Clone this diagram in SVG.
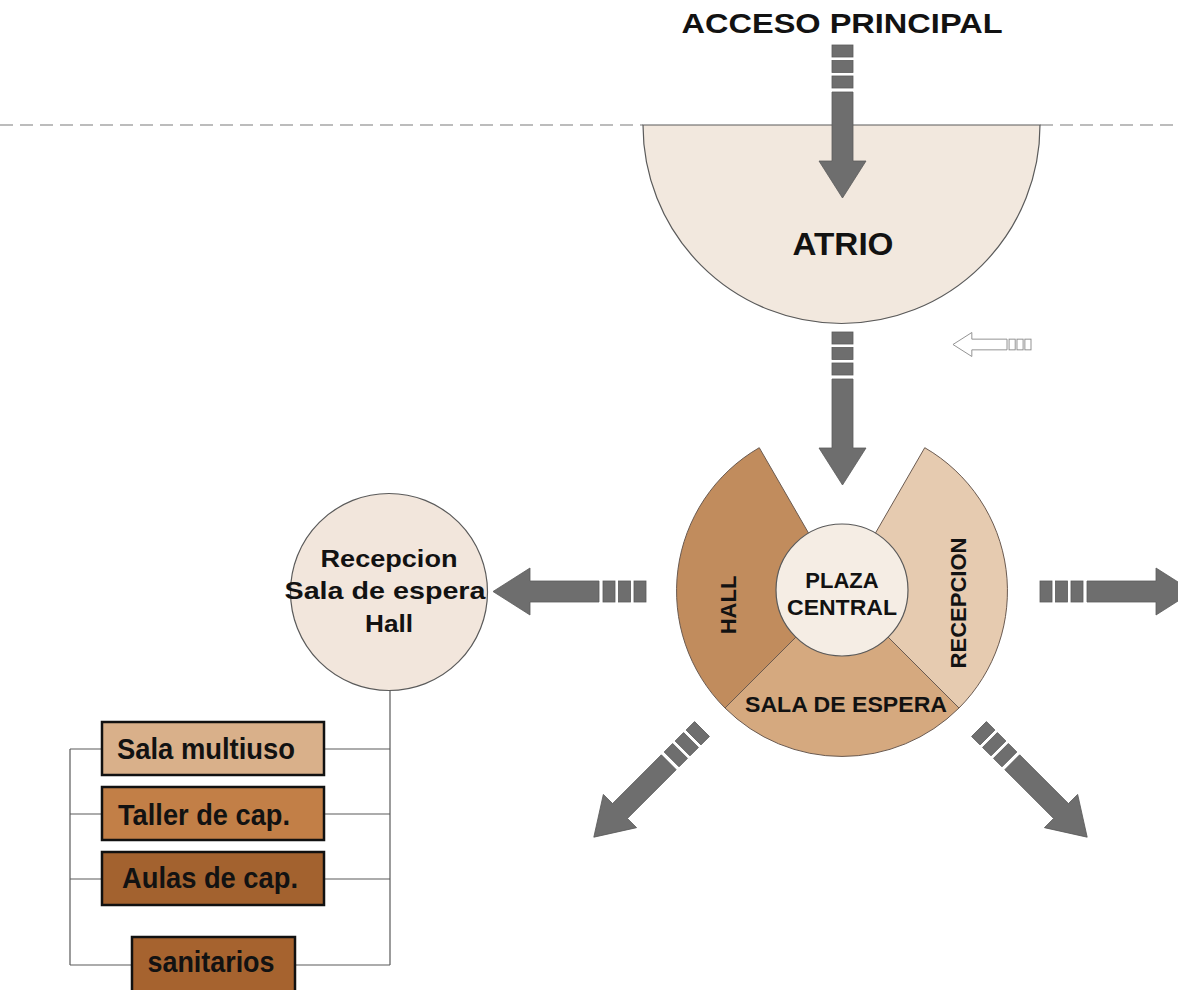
<svg xmlns="http://www.w3.org/2000/svg" xmlns:xlink="http://www.w3.org/1999/xlink" width="1178" height="990" viewBox="0 0 1178 990">
<style>
.t{font-family:"Liberation Sans",Arial,sans-serif;font-weight:bold;fill:#121212;}
.arw{fill:#6e6e6e;stroke:#5a5a5a;stroke-width:0.8;}
.arwo{fill:#ffffff;stroke:#8a8a8a;stroke-width:1.8;}
.ln{stroke:#5a5a5a;stroke-width:1.2;fill:none;}
.sec{stroke:#6a5a50;stroke-width:1;}
.box{stroke:#111;stroke-width:2.5;}
</style>
<defs>
<g id="arr">
<rect x="0" y="-10.5" width="12" height="21"/>
<rect x="15.5" y="-10.5" width="12" height="21"/>
<rect x="31" y="-10.5" width="12" height="21"/>
<path d="M47,-10.5 H116 V-23.5 L153,0 L116,23.5 V10.5 H47 Z"/>
</g>
</defs>
<rect width="1178" height="990" fill="#ffffff"/>
<text class="t" x="842" y="33" font-size="28" text-anchor="middle" textLength="321" lengthAdjust="spacingAndGlyphs">ACCESO PRINCIPAL</text>
<g id="limite">
<line x1="0" y1="125" x2="643" y2="125" stroke="#7a7a7a" stroke-width="1.2" stroke-dasharray="13 7"/>
<line x1="1040" y1="125" x2="1178" y2="125" stroke="#7a7a7a" stroke-width="1.2" stroke-dasharray="13 7"/>
</g>
<g id="atrio">
<path d="M643,125 H1040 A198.5,198.5 0 0 1 643,125 Z" fill="#f2e8de" stroke="#5a5a5a" stroke-width="1.2"/>
<text class="t" x="843" y="255" font-size="31" text-anchor="middle" textLength="101" lengthAdjust="spacingAndGlyphs">ATRIO</text>
</g>
<g id="hall">
<path class="sec" d="M842,591 L725,708 A165.5,165.5 0 0 1 759.25,447.7 Z" fill="#c18c5d"/>
<text class="t" font-size="22" text-anchor="middle" transform="translate(736,605) rotate(-90)">HALL</text>
</g>
<g id="recepcion">
<path class="sec" d="M842,591 L924.75,447.7 A165.5,165.5 0 0 1 959,708 Z" fill="#e6cbb0"/>
<text class="t" font-size="22" text-anchor="middle" transform="translate(966,603) rotate(-90)">RECEPCION</text>
</g>
<g id="sala-espera">
<path class="sec" d="M842,591 L959,708 A165.5,165.5 0 0 1 725,708 Z" fill="#d5a97f"/>
<text class="t" x="846" y="712" font-size="22" text-anchor="middle" textLength="202" lengthAdjust="spacingAndGlyphs">SALA DE ESPERA</text>
</g>
<g id="plaza-central">
<circle cx="842" cy="590" r="66" fill="#f5ede4" stroke="#5a5a5a" stroke-width="1.2"/>
<text class="t" x="842" y="588" font-size="22" text-anchor="middle">PLAZA</text>
<text class="t" x="842" y="615" font-size="22" text-anchor="middle" textLength="110" lengthAdjust="spacingAndGlyphs">CENTRAL</text>
</g>
<g id="recepcion-circulo">
<circle cx="389" cy="592" r="98.5" fill="#f2e6dc" stroke="#5a5a5a" stroke-width="1.2"/>
<text class="t" x="389" y="567" font-size="24" text-anchor="middle" textLength="137" lengthAdjust="spacingAndGlyphs">Recepcion</text>
<text class="t" x="385" y="599" font-size="24" text-anchor="middle" textLength="201" lengthAdjust="spacingAndGlyphs">Sala de espera</text>
<text class="t" x="389" y="632" font-size="24" text-anchor="middle" textLength="48" lengthAdjust="spacingAndGlyphs">Hall</text>
</g>
<g id="connectors">
<use href="#arr" class="arw" transform="translate(842.5,45) rotate(90)"/>
<use href="#arr" class="arw" transform="translate(842.5,332) rotate(90)"/>
<use href="#arr" class="arw" transform="translate(646,591.5) rotate(180)"/>
<use href="#arr" class="arw" transform="translate(1040,591.5)"/>
<use href="#arr" class="arw" transform="translate(702,729) rotate(135)"/>
<use href="#arr" class="arw" transform="translate(979,729) rotate(45)"/>
<use href="#arr" class="arwo" transform="translate(1031,344.5) rotate(180) scale(0.51)"/>
<path class="ln" d="M390,690 V965 M70,749 V965 M70,749 H102 M324,749 H390 M70,814 H102 M324,814 H390 M70,879 H102 M324,879 H390 M70,965 H132 M295,965 H390"/>
</g>
<g id="sala-multiuso">
<rect class="box" x="102" y="722" width="222" height="53" fill="#d9b08a"/>
<text class="t" x="206" y="759" font-size="30" text-anchor="middle" textLength="178" lengthAdjust="spacingAndGlyphs">Sala multiuso</text>
</g>
<g id="taller">
<rect class="box" x="102" y="787" width="222" height="53" fill="#c27f47"/>
<text class="t" x="204" y="825" font-size="30" text-anchor="middle" textLength="172" lengthAdjust="spacingAndGlyphs">Taller de cap.</text>
</g>
<g id="aulas">
<rect class="box" x="102" y="852" width="222" height="53" fill="#a3622f"/>
<text class="t" x="210" y="888" font-size="30" text-anchor="middle" textLength="176" lengthAdjust="spacingAndGlyphs">Aulas de cap.</text>
</g>
<g id="sanitarios">
<rect class="box" x="132" y="937" width="163" height="62" fill="#a6632f"/>
<text class="t" x="211" y="972" font-size="30" text-anchor="middle" textLength="127" lengthAdjust="spacingAndGlyphs">sanitarios</text>
</g>
</svg>
